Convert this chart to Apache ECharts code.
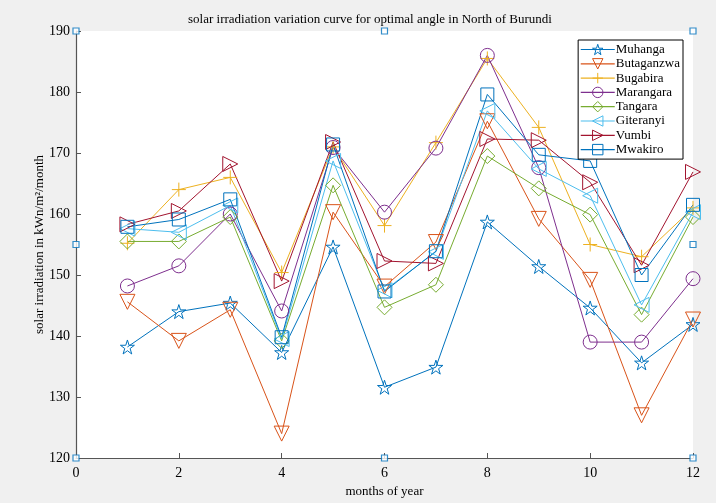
<!DOCTYPE html>
<html>
<head>
<meta charset="utf-8">
<script src="https://cdn.jsdelivr.net/npm/echarts@6/dist/echarts.min.js"></script>
<style>html,body{margin:0;padding:0;background:#f0f0f0;}#c{width:716px;height:503px;}</style>
</head>
<body>
<div id="c"></div>
<script>
const months = [1,2,3,4,5,6,7,8,9,10,11,12];
const Muhanga    = [138.2,144.0,145.4,137.3,154.6,131.6,134.9,158.7,151.4,144.6,135.6,141.9];
const Butaganzwa = [145.6,139.2,144.3,124.0,160.3,148.1,155.4,175.2,159.2,149.2,127.0,142.7];
const Bugabira   = [155.2,164.0,166.0,150.4,171.0,158.1,171.7,185.5,174.2,155.0,153.0,161.0];
const Marangara  = [148.2,151.5,160.0,144.1,170.9,160.3,170.8,186.0,167.6,139.0,139.0,149.4];
const Tangara    = [155.5,155.5,159.5,139.2,164.7,144.7,148.4,169.5,164.2,159.9,143.5,159.5];
const Giteranyi  = [157.6,157.0,161.4,139.5,168.7,147.5,153.8,176.9,167.4,163.0,145.1,160.3];
const Vumbi      = [158.3,160.5,168.2,149.0,171.8,152.3,151.9,172.3,172.1,165.2,151.6,166.9];
const Mwakiro    = [157.9,159.1,162.4,139.8,171.4,147.3,153.9,179.6,169.7,168.7,150.0,161.5];
const cornerPts  = [[0,190],[6,190],[12,190],[0,155],[12,155],[0,120],[6,120],[12,120]];
const yTicks = [120,130,140,150,160,170,180,190];
const xTicks = [0,2,4,6,8,10,12];

const STAR = 'path://M50,2 L61,36 L97,36 L68,57 L79,92 L50,71 L21,92 L32,57 L3,36 L39,36 Z';
const PLUS = 'path://M0,50 L100,50 M50,0 L50,100';

const defs = [
  ['Muhanga', Muhanga, '#0072BD', STAR, 14, 0],
  ['Butaganzwa', Butaganzwa, '#D95319', 'triangle', 15, 180],
  ['Bugabira', Bugabira, '#EDB120', PLUS, 14, 0],
  ['Marangara', Marangara, '#7E2F8E', 'circle', 14, 0],
  ['Tangara', Tangara, '#77AC30', 'diamond', 15, 0],
  ['Giteranyi', Giteranyi, '#4DBEEE', 'triangle', 15, 90],
  ['Vumbi', Vumbi, '#A2142F', 'triangle', 15, -90],
  ['Mwakiro', Mwakiro, '#0072BD', 'rect', 13, 0]
];

const series = defs.map(d => ({
  name: d[0], type: 'line',
  data: months.map((m,i) => [m, d[1][i]]),
  symbol: d[3], symbolSize: d[4], symbolRotate: d[5],
  showAllSymbol: true,
  lineStyle: {color: d[2], width: 1},
  itemStyle: {color: 'rgba(255,255,255,0)', borderColor: d[2], borderWidth: 1},
  emphasis: {disabled: true},
  animation: false
}));
series.push({
  name: 'corners', type: 'scatter', data: cornerPts,
  symbol: 'rect', symbolSize: 6,
  itemStyle: {color: '#ffffff', borderColor: '#0072BD', borderWidth: 1.2},
  animation: false, silent: true
});

const serif = 'Liberation Serif';
const chart = echarts.init(document.getElementById('c'));
chart.setOption({
  backgroundColor: '#f0f0f0',
  animation: false,
  title: {
    text: 'solar irradiation variation curve for optimal angle in North of Burundi',
    left: 365, top: 8, textAlign: 'center',
    textStyle: {fontFamily: serif, fontSize: 13, fontWeight: 'normal', color: '#000'}
  },
  legend: {
    data: defs.map(d => ({
      name: d[0],
      itemStyle: {color: 'rgba(255,255,255,0)', borderColor: d[2], borderWidth: 1},
      lineStyle: {color: d[2], width: 1.2}
    })),
    orient: 'vertical', right: 33, top: 40,
    itemWidth: 34, itemHeight: 13, itemGap: 1.3,
    padding: [3, 3, 3, 2],
    backgroundColor: '#ffffff', borderColor: '#000', borderWidth: 1,
    textStyle: {fontFamily: serif, fontSize: 13, lineHeight: 13, color: '#000', padding: [0,0,0,-4]}
  },
  grid: {left: 76, right: 23, top: 31, bottom: 42, show: true, backgroundColor: '#ffffff', borderWidth: 0},
  xAxis: {
    type: 'value', min: 0, max: 12, interval: 2,
    name: 'months of year', nameLocation: 'middle', nameGap: 27,
    nameTextStyle: {fontFamily: serif, fontSize: 13, color: '#000'},
    axisLine: {show: true, lineStyle: {color: '#555', width: 1.2}},
    axisTick: {show: true, inside: true, length: 5, lineStyle: {color: '#555'}},
    axisLabel: {fontFamily: serif, fontSize: 14, color: '#000', margin: 8},
    splitLine: {show: false}
  },
  yAxis: {
    type: 'value', min: 120, max: 190, interval: 10,
    name: 'solar irradiation in kWn/m²/month', nameLocation: 'middle', nameGap: 30,
    nameMoveOverlap: false,
    nameTextStyle: {fontFamily: serif, fontSize: 13, color: '#000'},
    axisLine: {show: true, lineStyle: {color: '#555', width: 1.2}},
    axisTick: {show: true, inside: true, length: 5, lineStyle: {color: '#555'}},
    axisLabel: {fontFamily: serif, fontSize: 14, color: '#000', margin: 6},
    splitLine: {show: false}
  },
  series: series
});
</script>
</body>
</html>
